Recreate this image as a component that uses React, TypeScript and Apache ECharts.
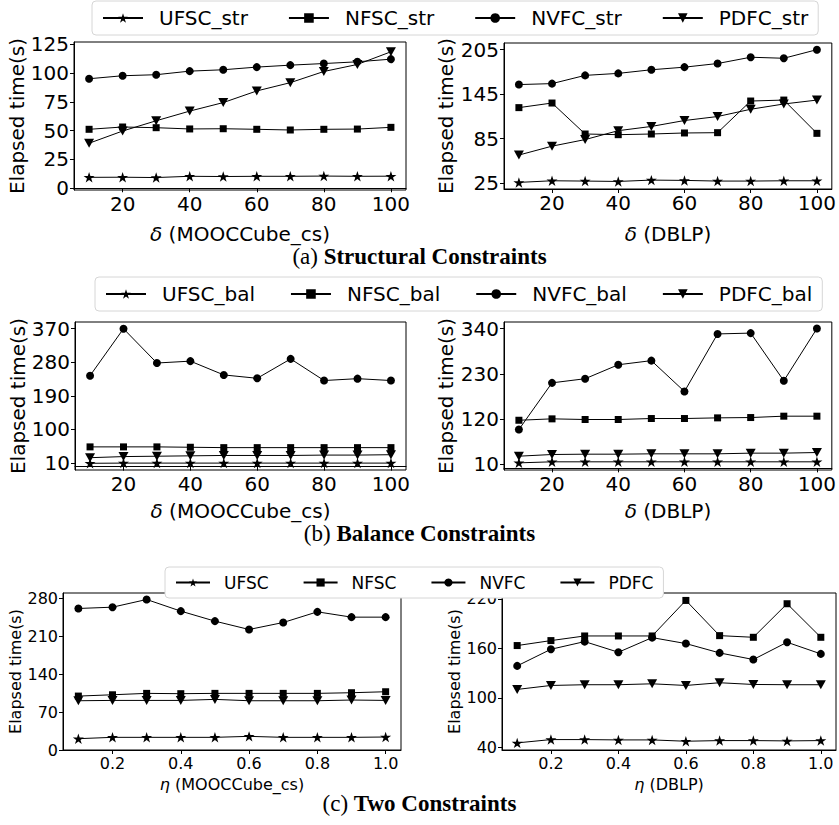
import React, { useEffect, useRef } from "react";
import * as echarts from "echarts";

// ---------- data ----------
const deltaX = [10, 20, 30, 40, 50, 60, 70, 80, 90, 100];
const etaX = [0.1, 0.2, 0.3, 0.4, 0.5, 0.6, 0.7, 0.8, 0.9, 1.0];

const deltaTicks = [20, 40, 60, 80, 100];
const etaTicks = [0.2, 0.4, 0.6, 0.8, 1.0];

// (a) structural constraints
const strMoocUFSC = [9.5, 9.6, 9.3, 10.4, 10.2, 10.4, 10.4, 10.6, 10.4, 10.5];
const strMoocNFSC = [51.2, 53.2, 52.6, 51.5, 51.7, 51.2, 50.6, 51.2, 51.4, 52.9];
const strMoocNVFC = [95.1, 97.7, 98.6, 101.7, 102.9, 105.2, 106.9, 108.3, 109.8, 112.1];
const strMoocPDFC = [39.1, 49.7, 58.6, 67.0, 74.4, 84.5, 91.7, 101.4, 107.5, 118.5];
const strMoocTicks = [0, 25, 50, 75, 100, 125];

const strDblpUFSC = [25.9, 28.1, 27.7, 27.2, 29.0, 28.6, 27.7, 27.7, 28.1, 28.1];
const strDblpNFSC = [126.8, 133.0, 91.2, 90.3, 91.2, 92.6, 93.0, 135.7, 137.0, 92.1];
const strDblpNVFC = [157.9, 159.2, 170.3, 173.0, 177.9, 181.4, 186.3, 194.8, 193.4, 205.0];
const strDblpPDFC = [62.8, 74.8, 83.7, 95.7, 101.4, 109.4, 114.8, 124.6, 131.7, 137.0];
const strDblpTicks = [25, 85, 145, 205];

// (b) balance constraints
const balMoocUFSC = [9, 9.5, 9.5, 9.5, 9.5, 9.5, 9.5, 9.5, 9.5, 9.5];
const balMoocNFSC = [53, 53, 53, 52, 51, 51, 51, 51, 51, 51];
const balMoocNVFC = [244, 370, 278, 283, 246, 237, 289, 231, 236, 231];
const balMoocPDFC = [24, 27, 28, 29, 30, 30, 30, 31, 31, 32];
const balMoocTicks = [10, 100, 190, 280, 370];

const balDblpUFSC = [13.4, 15.9, 15.9, 15.9, 15.9, 15.9, 15.9, 15.9, 15.9, 15.9];
const balDblpNFSC = [117, 120.4, 118.8, 118.8, 121.2, 121.2, 122.8, 123.6, 126.9, 126.9];
const balDblpNVFC = [94.5, 208, 218, 252, 262, 187, 327, 329, 213, 340];
const balDblpPDFC = [29.6, 33.7, 34.5, 34.5, 35.3, 35.3, 35.3, 37, 37, 38.5];
const balDblpTicks = [10, 120, 230, 340];

// (c) two constraints
const twoMoocUFSC = [20.9, 23.4, 23.4, 23.4, 23.4, 25.2, 23.4, 23.4, 23.4, 24];
const twoMoocNFSC = [99.6, 102, 104.6, 104, 104.6, 104.6, 104.6, 104.6, 105.8, 107.6];
const twoMoocNVFC = [261.4, 263.8, 278, 256.5, 238, 222.6, 235.5, 255.2, 245.4, 245.4];
const twoMoocPDFC = [91, 91.6, 91.6, 91.6, 93.5, 91, 91, 91, 92.3, 91.6];
const twoMoocTicks = [0, 70, 140, 210, 280];

const twoDblpUFSC = [45.6, 49.6, 49.6, 49.2, 49.2, 47.6, 48.4, 48.4, 48, 48.4];
const twoDblpNFSC = [163.4, 169.4, 175, 175, 175, 218, 175.4, 173.4, 214, 173.4];
const twoDblpNVFC = [138.8, 158.9, 168.2, 155.3, 173, 165.8, 154.5, 146.5, 167.4, 153.3];
const twoDblpPDFC = [110.3, 115.1, 116, 116, 117.1, 115.1, 118.4, 116.3, 116, 116];
const twoDblpTicks = [40, 100, 160, 220];

const strNames = ["UFSC_str", "NFSC_str", "NVFC_str", "PDFC_str"];
const balNames = ["UFSC_bal", "NFSC_bal", "NVFC_bal", "PDFC_bal"];
const twoNames = ["UFSC", "NFSC", "NVFC", "PDFC"];

// ---------- styling ----------
const FONT = '"DejaVu Sans", sans-serif';
const SERIF = '"Liberation Serif", "DejaVu Serif", serif';
const STAR =
  "path://M0,-10L2.245,-3.09L9.511,-3.09L3.633,1.18L5.878,8.09L0,3.82L-5.878,8.09L-3.633,1.18L-9.511,-3.09L-2.245,-3.09Z";

const markers = [
  { symbol: STAR, symbolSize: 11, symbolRotate: 0 },
  { symbol: "rect", symbolSize: 7, symbolRotate: 0 },
  { symbol: "circle", symbolSize: 8, symbolRotate: 0 },
  { symbol: "triangle", symbolSize: [10, 9], symbolRotate: 180 },
];

type Panel = {
  grid: { left: number; top: number; width: number; height: number };
  xs: number[];
  xMin: number;
  xMax: number;
  xTicks: number[];
  xLabel: string;
  yMin: number;
  yMax: number;
  yTicks: number[];
  values: number[][];
  names: string[];
  fs: number;
  nameFs: number;
  yNameGap: number;
  xNameGap: number;
  dec: number;
  labelMargin: number;
};

const panels: Panel[] = [
  {
    grid: { left: 74, top: 42, width: 332, height: 148 },
    xs: deltaX, xMin: 5.5, xMax: 104.5, xTicks: deltaTicks, xLabel: "{i|δ} (MOOCCube_cs)",
    yMin: -1.5, yMax: 127, yTicks: strMoocTicks,
    values: [strMoocUFSC, strMoocNFSC, strMoocNVFC, strMoocPDFC], names: strNames,
    fs: 20, nameFs: 20, yNameGap: 46, xNameGap: 33, dec: 0, labelMargin: 4,
  },
  {
    grid: { left: 504, top: 43, width: 330, height: 146 },
    xs: deltaX, xMin: 5.5, xMax: 104.5, xTicks: deltaTicks, xLabel: "{i|δ} (DBLP)",
    yMin: 17, yMax: 214, yTicks: strDblpTicks,
    values: [strDblpUFSC, strDblpNFSC, strDblpNVFC, strDblpPDFC], names: strNames,
    fs: 20, nameFs: 20, yNameGap: 48, xNameGap: 34, dec: 0, labelMargin: 4,
  },
  {
    grid: { left: 75, top: 322, width: 331, height: 148 },
    xs: deltaX, xMin: 5.5, xMax: 104.5, xTicks: deltaTicks, xLabel: "{i|δ} (MOOCCube_cs)",
    yMin: -9, yMax: 388, yTicks: balMoocTicks,
    values: [balMoocUFSC, balMoocNFSC, balMoocNVFC, balMoocPDFC], names: balNames,
    fs: 20, nameFs: 20, yNameGap: 46, xNameGap: 30, dec: 0, labelMargin: 4,
  },
  {
    grid: { left: 504, top: 322, width: 331, height: 148 },
    xs: deltaX, xMin: 5.5, xMax: 104.5, xTicks: deltaTicks, xLabel: "{i|δ} (DBLP)",
    yMin: -4, yMax: 356, yTicks: balDblpTicks,
    values: [balDblpUFSC, balDblpNFSC, balDblpNVFC, balDblpPDFC], names: balNames,
    fs: 20, nameFs: 20, yNameGap: 48, xNameGap: 30, dec: 0, labelMargin: 4,
  },
  {
    grid: { left: 63, top: 593, width: 338, height: 157 },
    xs: etaX, xMin: 0.055, xMax: 1.045, xTicks: etaTicks, xLabel: "{i|η} (MOOCCube_cs)",
    yMin: 0, yMax: 290, yTicks: twoMoocTicks,
    values: [twoMoocUFSC, twoMoocNFSC, twoMoocNVFC, twoMoocPDFC], names: twoNames,
    fs: 16, nameFs: 16, yNameGap: 38, xNameGap: 25, dec: 1, labelMargin: 5,
  },
  {
    grid: { left: 502, top: 593, width: 334, height: 157 },
    xs: etaX, xMin: 0.055, xMax: 1.045, xTicks: etaTicks, xLabel: "{i|η} (DBLP)",
    yMin: 37, yMax: 227, yTicks: twoDblpTicks,
    values: [twoDblpUFSC, twoDblpNFSC, twoDblpNVFC, twoDblpPDFC], names: twoNames,
    fs: 16, nameFs: 16, yNameGap: 38, xNameGap: 25, dec: 1, labelMargin: 5,
  },
];

function buildOption() {
  const grid: any[] = [];
  const xAxis: any[] = [];
  const yAxis: any[] = [];
  const series: any[] = [];
  panels.forEach((p, idx) => {
    grid.push({
      ...p.grid,
      show: true,
      borderColor: "#000",
      borderWidth: 1,
      backgroundColor: "transparent",
      containLabel: false,
    });
    xAxis.push({
      type: "value",
      gridIndex: idx,
      min: p.xMin,
      max: p.xMax,
      name: p.xLabel,
      nameLocation: "middle",
      nameGap: p.xNameGap,
      nameTextStyle: {
        fontFamily: FONT,
        fontSize: p.nameFs,
        lineHeight: p.nameFs + 2,
        color: "#000",
        rich: { i: { fontFamily: FONT, fontStyle: "italic", fontSize: p.nameFs, lineHeight: p.nameFs + 2, color: "#000" } },
      },
      axisLine: { show: true, lineStyle: { color: "#000", width: 1 } },
      axisTick: { show: true, inside: false, length: 4, customValues: p.xTicks, lineStyle: { color: "#000" } },
      axisLabel: {
        show: true,
        customValues: p.xTicks,
        margin: p.labelMargin,
        fontFamily: FONT,
        fontSize: p.fs,
        color: "#000",
        formatter: (v: number) => (p.dec ? v.toFixed(p.dec) : String(Math.round(v))),
      },
      splitLine: { show: false },
    });
    yAxis.push({
      type: "value",
      gridIndex: idx,
      min: p.yMin,
      max: p.yMax,
      name: "Elapsed time(s)",
      nameLocation: "middle",
      nameRotate: 90,
      nameGap: p.yNameGap,
      nameTextStyle: { fontFamily: FONT, fontSize: p.nameFs, color: "#000" },
      axisLine: { show: true, lineStyle: { color: "#000", width: 1 } },
      axisTick: { show: true, inside: false, length: 4, customValues: p.yTicks, lineStyle: { color: "#000" } },
      axisLabel: {
        show: true,
        customValues: p.yTicks,
        margin: 5,
        fontFamily: FONT,
        fontSize: p.fs,
        color: "#000",
      },
      splitLine: { show: false },
    });
    p.values.forEach((vals, k) => {
      series.push({
        type: "line",
        name: p.names[k],
        xAxisIndex: idx,
        yAxisIndex: idx,
        data: p.xs.map((x, i) => [x, vals[i]]),
        symbol: markers[k].symbol,
        symbolSize: markers[k].symbolSize,
        symbolRotate: markers[k].symbolRotate,
        symbolKeepAspect: true,
        showSymbol: true,
        lineStyle: { color: "#000", width: 1 },
        itemStyle: { color: "#000", borderWidth: 0 },
        emphasis: { disabled: true },
        z: 2 + k,
      });
    });
  });

  const legendBase = (names: string[], left: number, top: number, fs: number, iw: number, gap: number, pad: number) => ({
    data: names,
    left,
    top,
    orient: "horizontal",
    itemWidth: iw,
    itemHeight: fs * 0.6,
    itemGap: gap,
    padding: [7, 10, 7, 10],
    borderColor: "#d6d6d6",
    borderWidth: 1,
    borderRadius: 4,
    backgroundColor: "#fff",
    selectedMode: false,
    textStyle: { fontFamily: FONT, fontSize: fs, color: "#000", padding: [0, 0, 0, pad] },
  });

  return {
    animation: false,
    backgroundColor: "#fff",
    grid,
    xAxis,
    yAxis,
    series,
    legend: [
      legendBase(strNames, 92, 1, 20, 40, 40, 11),
      legendBase(balNames, 95, 277, 20, 40, 35, 11),
      legendBase(twoNames, 165, 567, 17, 34, 34, 9),
    ],
    graphic: [
      { label: "(a)", bold: "Structural Constraints", y: 256 },
      { label: "(b)", bold: "Balance Constraints", y: 533 },
      { label: "(c)", bold: "Two Constraints", y: 803 },
    ].map((c) => ({
      type: "text",
      left: "center",
      top: c.y - 11,
      style: {
        text: `{r|${c.label}} {b|${c.bold}}`,
        rich: {
          r: { fontFamily: SERIF, fontSize: 23, lineHeight: 22, color: "#000" },
          b: { fontFamily: SERIF, fontSize: 23, lineHeight: 22, fontWeight: "bold", color: "#000" },
        },
        fill: "#000",
        font: `23px ${SERIF}`,
      },
    })),
  };
}

export default function App() {
  const ref = useRef<HTMLDivElement>(null);
  useEffect(() => {
    if (!ref.current) return;
    const chart = echarts.init(ref.current, undefined, { renderer: "svg" });
    chart.setOption(buildOption() as any);
    return () => chart.dispose();
  }, []);
  return (
    <div
      ref={ref}
      style={{ position: "absolute", left: 0, top: 0, width: 839, height: 825 }}
    />
  );
}
